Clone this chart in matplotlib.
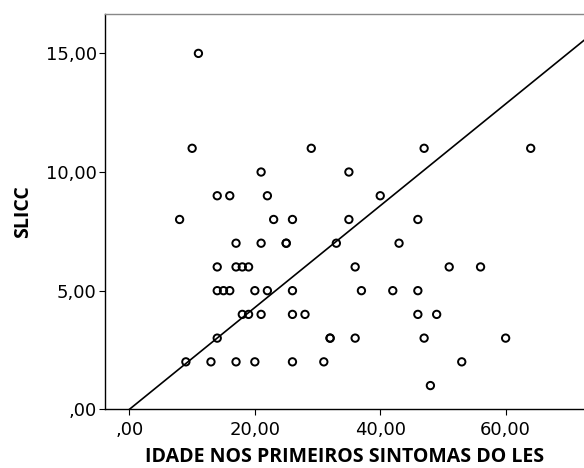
import numpy as np
import matplotlib.pyplot as plt

# idade nos primeiros sintomas (x) vs SLICC (y)
idade = [11,
         10, 29, 47, 64,
         21, 35,
         14, 16, 22, 40,
         8, 23, 26, 35, 46,
         17, 21, 25, 25, 33, 43,
         14, 17, 18, 19, 36, 51, 56,
         14, 15, 16, 20, 22, 26, 37, 42, 46,
         18, 19, 21, 26, 28, 46, 49,
         14, 32, 32, 36, 47, 60,
         9, 13, 17, 20, 26, 31, 53,
         48]
slicc = [15,
         11, 11, 11, 11,
         10, 10,
         9, 9, 9, 9,
         8, 8, 8, 8, 8,
         7, 7, 7, 7, 7, 7,
         6, 6, 6, 6, 6, 6, 6,
         5, 5, 5, 5, 5, 5, 5, 5, 5,
         4, 4, 4, 4, 4, 4, 4,
         3, 3, 3, 3, 3, 3,
         2, 2, 2, 2, 2, 2, 2,
         1]

slope = 0.2145  # linha de ajuste pela origem

xticks = [0, 20, 40, 60]
xtick_labels = [",00", "20,00", "40,00", "60,00"]
yticks = [0, 5, 10, 15]
ytick_labels = [",00", "5,00", "10,00", "15,00"]

fig = plt.figure(figsize=(5.84, 4.68), dpi=100)
ax = fig.add_axes([105 / 584, 1 - 409.3 / 468, 1 - 105 / 584, (409.3 - 14) / 468])

x_lo, x_hi = -3.9, 72.5
ax.scatter(idade, slicc, s=28, facecolors="none", edgecolors="black",
           linewidths=1.4, zorder=3)
xl = np.array([0, x_hi + 2])
ax.plot(xl, slope * xl, color="black", linewidth=1.2, zorder=2)

ax.set_xlim(x_lo, x_hi)
ax.set_ylim(0, 16.66)
ax.set_xticks(xticks)
ax.set_xticklabels(xtick_labels)
ax.set_yticks(yticks)
ax.set_yticklabels(ytick_labels)
ax.tick_params(direction="out", length=4, width=0.8, labelsize=13, pad=2)
ax.tick_params(axis="x", pad=4.5)

ax.spines["right"].set_visible(False)
ax.spines["top"].set_color("#888888")
for s in ["left", "bottom", "top"]:
    ax.spines[s].set_linewidth(1.0)

ax.set_xlabel("IDADE NOS PRIMEIROS SINTOMAS DO LES", fontsize=14,
              fontweight="bold", family="Open Sans", labelpad=5.5)
ax.set_ylabel("SLICC", fontsize=14, fontweight="bold", family="Open Sans",
              labelpad=9)

fig.savefig("out.png", dpi=100)
